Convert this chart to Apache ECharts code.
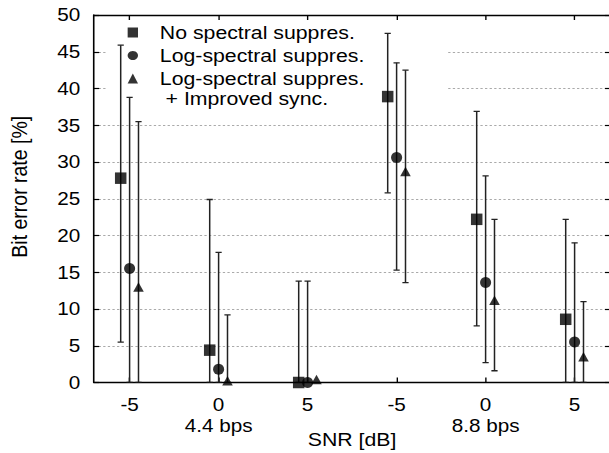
<!DOCTYPE html>
<html>
<head>
<meta charset="utf-8">
<script src="https://cdn.jsdelivr.net/npm/echarts@6/dist/echarts.min.js"></script>
<style>
html,body{margin:0;padding:0;background:#fff;}
#wrap{width:609px;height:453px;overflow:hidden;position:relative;}
#main{width:530px;height:453px;transform:scaleX(1.15);transform-origin:0 0;}
</style>
</head>
<body>
<div id="wrap"><div id="main"></div></div>
<script>
// ---- data ----
const groupPos = [1, 2, 3, 4, 5, 6];
const tickLabels = ['-5', '0', '5', '-5', '0', '5'];
const groupLabels = ['', '4.4 bps', '', '', '8.8 bps', ''];
const yTicks = [0, 5, 10, 15, 20, 25, 30, 35, 40, 45, 50];
const seriesNames = ['No spectral suppres.', 'Log-spectral suppres.', 'Log-spectral suppres.'];
const extraLegendLine = '+ Improved sync.';

const noSupp     = [27.8, 4.4, 0.0, 38.9, 22.2, 8.6];
const noSuppLow  = [5.5, 0.0, 0.0, 25.8, 7.7, 0.0];
const noSuppHigh = [45.9, 24.9, 13.8, 47.5, 36.9, 22.2];

const logSupp     = [15.5, 1.8, 0.0, 30.6, 13.6, 5.5];
const logSuppLow  = [0.0, 0.0, 0.0, 15.3, 2.7, 0.0];
const logSuppHigh = [38.8, 17.7, 13.8, 43.5, 28.1, 19.0];

const logSync     = [13.0, 0.25, 0.4, 28.7, 11.2, 3.5];
const logSyncLow  = [0.0, 0.0, 0.4, 13.6, 1.6, 0.0];
const logSyncHigh = [35.5, 9.2, 0.4, 42.5, 22.2, 11.0];

// ---- chart ----
const SX = 1.15; // horizontal stretch of the reference
const FONT = 'Liberation Sans, Arial, Helvetica, sans-serif';
const offsets = [-0.1, 0, 0.1];
const symbols = ['rect', 'circle', 'triangle'];
const symSizes = [[10 , 11.5], [9.6, 11], [9.2, 9.5]];
const vals = [noSupp, logSupp, logSync];
const lows = [noSuppLow, logSuppLow, logSyncLow];
const highs = [noSuppHigh, logSuppHigh, logSyncHigh];

function errRender(params, api) {
  const x = api.value(0), lo = api.value(1), hi = api.value(2);
  if (hi - lo <= 0) return null;
  const pT = api.coord([x, hi]);
  const pB = api.coord([x, lo]);
  const hw = 2.7;
  const st = { stroke: '#222', lineWidth: 1.3 };
  return {
    type: 'group',
    children: [
      { type: 'line', shape: { x1: pB[0], y1: pB[1], x2: pT[0], y2: pT[1] }, style: st },
      { type: 'line', shape: { x1: pT[0] - hw, y1: pT[1], x2: pT[0] + hw, y2: pT[1] }, style: st },
      { type: 'line', shape: { x1: pB[0] - hw, y1: pB[1], x2: pB[0] + hw, y2: pB[1] }, style: st }
    ]
  };
}

const series = [];
for (let s = 0; s < 3; s++) {
  series.push({
    name: 'err' + s,
    type: 'custom',
    renderItem: errRender,
    clip: true,
    z: 3,
    encode: { x: 0, y: [1, 2] },
    data: groupPos.map((p, i) => [p + offsets[s], lows[s][i], highs[s][i]])
  });
}
for (let s = 0; s < 3; s++) {
  series.push({
    name: s === 2 ? seriesNames[2] + ' ' : seriesNames[s],
    type: 'scatter',
    symbol: symbols[s],
    symbolSize: symSizes[s],
    itemStyle: { color: '#000' },
    z: 5,
    clip: false,
    data: groupPos.map((p, i) => [p + offsets[s], vals[s][i]])
  });
}

const chart = echarts.init(document.getElementById('main'), null, { renderer: 'svg' });
const xCommon = {
  type: 'value', min: 0.6, max: 6.4,
  splitLine: { show: false },
  axisLine: { show: true, onZero: false, lineStyle: { color: '#000', width: 1.4 } },
  axisTick: { show: true, inside: true, length: 5, customValues: groupPos, lineStyle: { color: '#000', width: 1.2 } }
};
chart.setOption({
  animation: false,
  backgroundColor: '#fff',
  textStyle: { fontFamily: FONT },
  grid: { left: 94 / SX, top: 15, width: 516.2 / SX, height: 367.5, outerBoundsMode: 'none', containLabel: false },
  legend: {
    orient: 'vertical',
    left: 93, top: 20, z: 1, zlevel: 0,
    padding: [3, 66, 2, 18],
    backgroundColor: '#fff',
    itemWidth: 9, itemHeight: 10,
    itemGap: 4,
    selectedMode: false,
    textStyle: { fontSize: 18.5, color: '#000', fontFamily: FONT, lineHeight: 18, padding: [0, 0, 0, 14] },
    data: [
      { name: seriesNames[0], icon: 'rect' },
      { name: seriesNames[1], icon: 'circle' },
      { name: seriesNames[2] + ' ', icon: 'triangle' }
    ]
  },
  graphic: [{
    type: 'text', x: 142, y: 99, z: 1,
    style: { text: extraLegendLine, font: '18.5px ' + FONT, fill: '#000', verticalAlign: 'middle',
             backgroundColor: '#fff', padding: [3, 2, 1, 2] }
  }],
  xAxis: [
    Object.assign({}, xCommon, {
      position: 'bottom',
      name: 'SNR [dB]', nameLocation: 'middle', nameGap: 47, nameMoveOverlap: false,
      nameTextStyle: { fontSize: 18.5, color: '#000', fontFamily: FONT },
      axisLabel: {
        show: true, margin: 11.5, customValues: groupPos, color: '#000', fontSize: 18,
        formatter: function (v) {
          const i = Math.round(v) - 1;
          return groupLabels[i] ? '{a|' + tickLabels[i] + '}\n{a|' + groupLabels[i] + '}' : '{a|' + tickLabels[i] + '}';
        },
        rich: { a: { fontSize: 18, lineHeight: 21, color: '#000', fontFamily: FONT } }
      }
    }),
    Object.assign({}, xCommon, { position: 'top', axisLabel: { show: false } })
  ],
  yAxis: [
    {
      type: 'value', min: 0, max: 50, interval: 5, position: 'left',
      name: 'Bit error rate [%]', nameLocation: 'middle', nameGap: 55, nameMoveOverlap: false,
      nameTextStyle: { fontSize: 19.5, color: '#000', fontFamily: FONT, padding: [0, 0, 0, 24] },
      axisLine: { show: true, lineStyle: { color: '#000', width: 1.4 } },
      axisTick: { show: true, inside: true, length: 4.5, lineStyle: { color: '#000', width: 1.2 } },
      axisLabel: { show: true, margin: 12, color: '#000', fontSize: 18, fontFamily: FONT,
                   formatter: v => String(yTicks[Math.round(v / 5)]) },
      splitLine: { show: true, lineStyle: { color: '#aaa', type: [2, 2], width: 1 } }
    },
    {
      type: 'value', min: 0, max: 50, interval: 5, position: 'right',
      axisLine: { show: true, lineStyle: { color: '#000', width: 1.4 } },
      axisTick: { show: true, inside: true, length: 4.5, lineStyle: { color: '#000', width: 1.2 } },
      axisLabel: { show: false },
      splitLine: { show: false }
    }
  ],
  series: series
});
</script>
</body>
</html>
